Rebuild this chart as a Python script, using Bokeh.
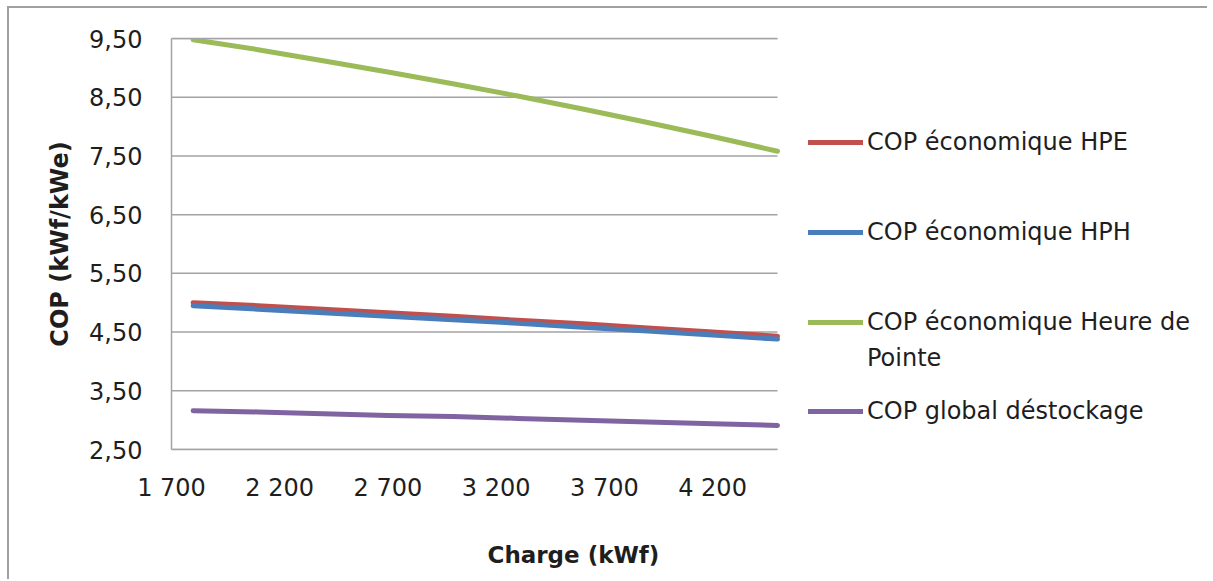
from bokeh.plotting import figure
from bokeh.models import (Range1d, FixedTicker, LinearAxis, Legend, LegendItem,
                          Title, ColumnDataSource)
from bokeh.embed import file_html
from bokeh.resources import INLINE

# ---------------- data ----------------
charge = [1800, 2100, 2400, 2700, 3000, 3300, 3600, 3900, 4200, 4500]
cop_hpe = [5.00, 4.95, 4.89, 4.83, 4.77, 4.70, 4.64, 4.57, 4.50, 4.43]
cop_hph = [4.95, 4.89, 4.83, 4.77, 4.71, 4.65, 4.58, 4.52, 4.45, 4.38]
cop_pointe = [9.48, 9.31, 9.12, 8.93, 8.73, 8.52, 8.30, 8.07, 7.83, 7.58]
cop_destockage = [3.16, 3.14, 3.11, 3.08, 3.06, 3.03, 3.00, 2.97, 2.94, 2.91]

series_names = ["COP économique HPE", "COP économique HPH",
                "COP économique Heure de", "COP global déstockage"]
wrapped_line = "Pointe"
series_colors = ["#C0504D", "#4A7EBB", "#9BBB59", "#8064A2"]

x_min, x_max = 1700, 4500
y_min, y_max = 2.5, 9.5
y_ticks = [2.5, 3.5, 4.5, 5.5, 6.5, 7.5, 8.5, 9.5]
y_tick_labels = ["2,50", "3,50", "4,50", "5,50", "6,50", "7,50", "8,50", "9,50"]
x_ticks = [1700, 2200, 2700, 3200, 3700, 4200]
x_tick_labels = ["1 700", "2 200", "2 700", "3 200", "3 700", "4 200"]
x_title = "Charge (kWf)"
y_title = "COP (kWf/kWe)"

FONT = "DejaVu Sans"
GRID = "#a3a3a7"
TXT = "#1e1e1e"

# layout: the frame reaches the right edge so that the legend can sit in it;
# the plotted area (axes, grid) is bounded to [x_min, x_max] = 606 px wide.
W, H = 1200, 573
B_LEFT, B_RIGHT, B_TOP, B_BOTTOM = 162, 5, 30, 132
PLOT_W = 606
FRAME_W = W - B_LEFT - B_RIGHT
x_end = x_min + (x_max - x_min) * FRAME_W / PLOT_W

p = figure(width=W, height=H, output_backend="svg", toolbar_location=None,
           x_range=Range1d(x_min, x_end), y_range=Range1d(y_min, y_max),
           min_border_left=B_LEFT, min_border_right=B_RIGHT, min_border_top=B_TOP,
           min_border_bottom=B_BOTTOM)
p.styles = {"border-left": "2px solid #a0a0a4", "border-top": "2px solid #a0a0a4",
            "margin-left": "7px", "margin-top": "6px"}
p.outline_line_color = None
p.background_fill_color = "white"
p.border_fill_color = "white"
p.xgrid.visible = False
p.ygrid.visible = False

# axes
p.xaxis.ticker = FixedTicker(ticks=x_ticks)
p.xaxis.major_label_overrides = dict(zip(x_ticks, x_tick_labels))
p.xaxis.bounds = (x_min, x_max)
p.yaxis.ticker = FixedTicker(ticks=y_ticks)
p.yaxis.major_label_overrides = dict(zip(y_ticks, y_tick_labels))
for ax in (p.xaxis, p.yaxis):
    ax.major_tick_in = 0
    ax.major_tick_out = 0
    ax.minor_tick_in = 0
    ax.minor_tick_out = 0
    ax.axis_line_color = GRID
    ax.axis_line_width = 1.5
    ax.major_label_text_font = FONT
    ax.major_label_text_font_size = "24px"
    ax.major_label_text_color = TXT
p.xaxis.major_label_standoff = 24
p.yaxis.major_label_standoff = 29
p.yaxis.axis_label = y_title
p.yaxis.axis_label_text_font = FONT
p.yaxis.axis_label_text_font_size = "24px"
p.yaxis.axis_label_text_font_style = "bold"
p.yaxis.axis_label_text_color = TXT
p.yaxis.axis_label_standoff = 12

top_axis = LinearAxis(ticker=FixedTicker(ticks=[]), major_label_text_font_size="0px",
                      major_tick_in=0, major_tick_out=0, minor_tick_in=0, minor_tick_out=0,
                      axis_line_color=GRID, axis_line_width=1.5, bounds=(x_min, x_max))
p.add_layout(top_axis, "above")

# horizontal grid lines, limited to the plotted x interval
n = len(y_ticks)
p.segment(x0=[x_min] * n, x1=[x_max] * n, y0=y_ticks, y1=y_ticks,
          line_color=GRID, line_width=1.5)

src = ColumnDataSource(dict(x=charge, hpe=cop_hpe, hph=cop_hph,
                            pointe=cop_pointe, dest=cop_destockage))
renderers = []
for col, color in zip(["hpe", "hph", "pointe", "dest"], series_colors):
    r = p.line("x", col, source=src, line_color=color, line_width=5,
               line_cap="round", line_join="round")
    renderers.append(r)
# invisible twin of the green series: carries the wrapped second line of its legend entry
r_wrap = p.line("x", "pointe", source=src, line_alpha=0, line_width=5)

common = dict(orientation="vertical", border_line_color=None, background_fill_alpha=0,
              padding=0, margin=0, glyph_width=55, glyph_height=30, label_height=30,
              label_standoff=4, label_text_font=FONT, label_text_font_size="24px",
              label_text_color=TXT)
legend_a = Legend(items=[LegendItem(label=nm, renderers=[r])
                         for nm, r in zip(series_names[:3], renderers[:3])],
                  location=(637, 112), spacing=60, **common)
legend_b = Legend(items=[LegendItem(label=wrapped_line, renderers=[r_wrap]),
                         LegendItem(label=series_names[3], renderers=[renderers[3]])],
                  location=(637, 23), spacing=23, **common)
p.add_layout(legend_a)
p.add_layout(legend_b)

# x-axis title (an empty first line pushes it down, as in the reference)
p.add_layout(Title(text="\n" + x_title, align="left", offset=316, standoff=18,
                   text_font=FONT, text_font_size="23px", text_font_style="bold",
                   text_color=TXT), "below")

open("out.html", "w").write(file_html(p, INLINE))
